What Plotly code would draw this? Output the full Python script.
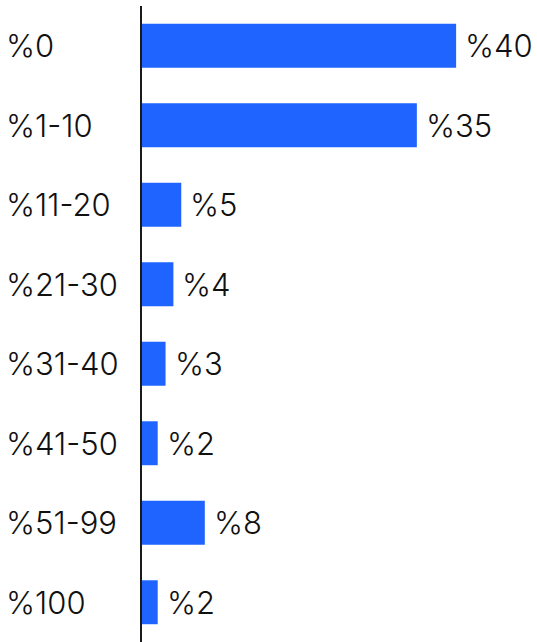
import plotly.graph_objects as go

# Share of respondents per bracket
categories = ["%0", "%1-10", "%11-20", "%21-30", "%31-40", "%41-50", "%51-99", "%100"]
values = [40, 35, 5, 4, 3, 2, 8, 2]
value_labels = ["%40", "%35", "%5", "%4", "%3", "%2", "%8", "%2"]

BAR_COLOR = "#1F64FF"
FONT = "Inter"
FONT_SIZE = 31
FONT_WEIGHT = 300

fig = go.Figure(
    go.Bar(
        y=categories,
        x=values,
        orientation="h",
        marker=dict(color=BAR_COLOR, line=dict(width=0)),
        hoverinfo="skip",
    )
)

label_font = dict(family=FONT, size=FONT_SIZE, weight=FONT_WEIGHT, color="#111111")

annotations = []
# Category names, left-aligned at the page edge
for cat in categories:
    annotations.append(dict(
        x=0, xref="paper", xshift=-138, y=cat, yref="y",
        text=cat, showarrow=False, xanchor="left", yanchor="middle",
        font=label_font,
    ))
# Value labels just past each bar end
for cat, v, lab in zip(categories, values, value_labels):
    annotations.append(dict(
        x=v, xref="x", xshift=7, y=cat, yref="y",
        text=lab, showarrow=False, xanchor="left", yanchor="middle",
        font=label_font,
    ))

fig.update_layout(
    width=537, height=642,
    margin=dict(l=142, r=0, t=6, b=0),
    paper_bgcolor="white", plot_bgcolor="white",
    bargap=0.447,
    showlegend=False,
    annotations=annotations,
    xaxis=dict(range=[0, 50.3], visible=False, fixedrange=True),
    yaxis=dict(
        autorange="reversed", showticklabels=False, ticks="",
        showgrid=False, zeroline=False,
        showline=True, linecolor="#1a1a1a", linewidth=2,
        fixedrange=True,
    ),
)

fig.write_html("out.html", config=dict(displayModeBar=False))
